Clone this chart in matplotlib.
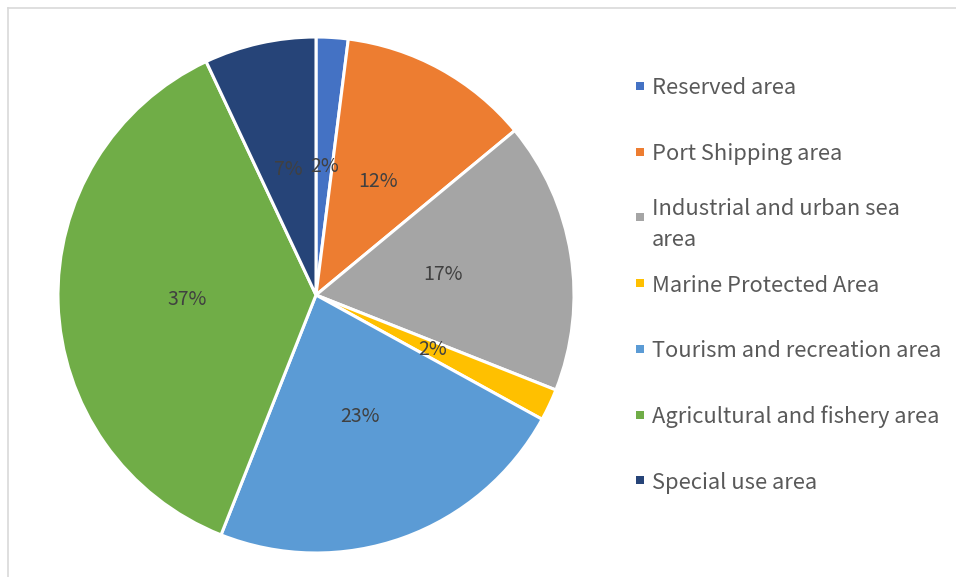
import matplotlib.pyplot as plt
from matplotlib.lines import Line2D
from matplotlib.patches import Rectangle

labels = ["Reserved area", "Port Shipping area", "Industrial and urban sea\narea",
          "Marine Protected Area", "Tourism and recreation area",
          "Agricultural and fishery area", "Special use area"]
shares = [2, 12, 17, 2, 23, 37, 7]
colors = ["#4472C4", "#ED7D31", "#A5A5A5", "#FFC000", "#5B9BD5", "#70AD47", "#264478"]

W, H = 956, 577
fig = plt.figure(figsize=(W / 100, H / 100), dpi=100)
fonts = ["Noto Sans CJK SC", "DejaVu Sans"]

# pie centred at (316, 295) px, radius 258 px
cx, cy, r = 316, 295, 258
ax = fig.add_axes([(cx - r) / W, (H - cy - r) / H, 2 * r / W, 2 * r / H])
wedges, texts, autotexts = ax.pie(
    shares, colors=colors, startangle=90, counterclock=False,
    autopct="%1.0f%%", pctdistance=0.5,
    wedgeprops=dict(edgecolor="white", linewidth=2.2),
    textprops=dict(color="#404040", fontsize=14, family=fonts),
)
ax.set_xlim(-1, 1)
ax.set_ylim(-1, 1)
ax.set_aspect("equal")

# legend drawn by hand so the wrapped entry keeps even spacing
for i, (lab, col) in enumerate(zip(labels, colors)):
    y = 86 + i * 65.7
    fig.add_artist(Rectangle((636 / W, 1 - (y + 4) / H), 8 / W, 8 / H,
                             transform=fig.transFigure, color=col, lw=0))
    fig.text(652 / W, 1 - y / H, lab, color="#595959", fontsize=15.8,
             va="center_baseline", ha="left", linespacing=1.55, family=fonts)

# chart area frame (only top and left edges visible)
fig.add_artist(Line2D([7.5 / W, 1], [1 - 7.5 / H, 1 - 7.5 / H], color="#D9D9D9", lw=1.2))
fig.add_artist(Line2D([7.5 / W, 7.5 / W], [0, 1 - 7.5 / H], color="#D9D9D9", lw=1.2))

fig.savefig("out.png", dpi=100)
